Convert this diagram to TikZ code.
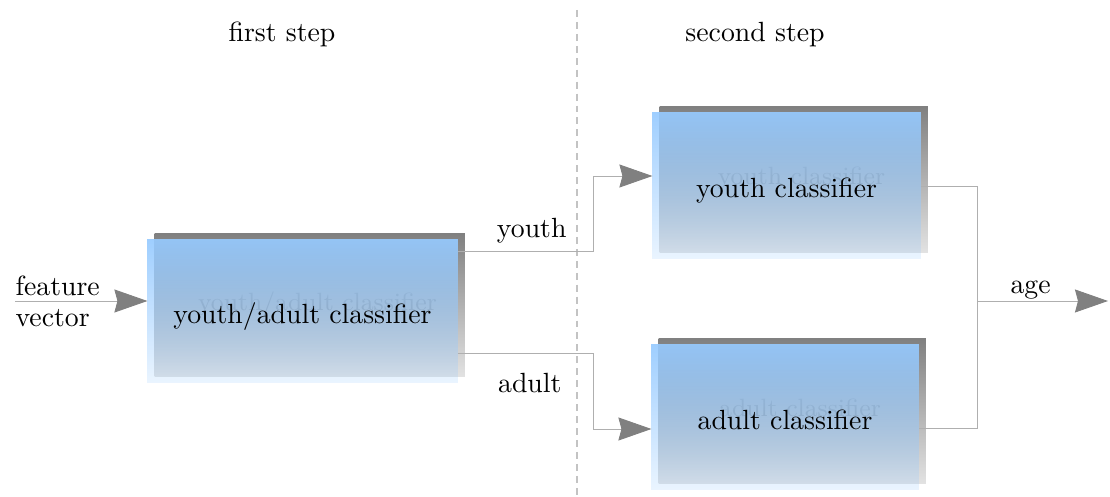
\documentclass[tikz,border=0pt]{standalone}
\usetikzlibrary{arrows.meta,fadings}
\definecolor{boxblue}{RGB}{150,202,255}
\definecolor{shadtop}{RGB}{128,128,128}
\definecolor{shadbot}{RGB}{226,226,226}
\definecolor{linegray}{RGB}{175,175,175}
\definecolor{arrgray}{RGB}{128,128,128}
\definecolor{dashgray}{RGB}{195,195,195}
\definecolor{ghostgray}{RGB}{140,140,140}
\tikzfading[name=boxfade, top color=transparent!8, bottom color=transparent!80]
\tikzset{
  boxnode/.style={rectangle, inner sep=0pt, draw=none},
  conn/.style={draw=linegray, line width=0.32pt},
  arr/.style={-{Stealth[length=11.9pt, width=8.3pt, inset=1.1pt, color=arrgray]}},
  dashline/.style={draw=dashgray, line width=0.4pt, dash pattern=on 2.5pt off 1.8pt},
  lbl/.style={inner sep=0pt, font=\normalsize},
  ghost/.style={inner sep=0pt, text=ghostgray, font=\fontsize{9}{11}\selectfont},
}
\begin{document}
\begin{tikzpicture}[x=0.36pt,y=-0.36pt]
\useasboundingbox (0,0) rectangle (1110,497);

% dashed separator
\coordinate (dtop) at (577,10);
\coordinate (dbot) at (577,495);
\draw[dashline] (dtop) -- (dbot);

% step titles
\node[lbl, anchor=base] (s1) at (282,42) {first step};
\node[lbl, anchor=base] (s2) at (755,42) {second step};

% box placeholders
\node[boxnode, minimum width=111.24pt, minimum height=51.12pt] (b1) at (302.5,311) {};
\node[boxnode, minimum width=96.12pt, minimum height=52.2pt] (b2) at (786.5,185.5) {};
\node[boxnode, minimum width=95.76pt, minimum height=51.84pt] (b3) at (785,417) {};

% shadows, ghost texts, fronts
\foreach \b/\t in {b1/{youth/adult classifier}, b2/{youth classifier}, b3/{adult classifier}}{
  \shade[top color=shadtop, bottom color=shadbot]
    ([xshift=2.6pt, yshift=2.2pt]\b.south west) rectangle ([xshift=2.6pt, yshift=2.2pt]\b.north east);
  \node[ghost, anchor=base] at ([xshift=5.4pt, yshift=0.2pt]\b.center) {\t};
  \fill[boxblue, path fading=boxfade] (\b.south west) rectangle (\b.north east);
  \node[lbl, anchor=base] at ([yshift=-4.5pt]\b.center) {\t};
}

% input
\coordinate (fv) at (15,301);
\draw[conn, arr] (fv) -- (fv -| b1.west);
\node[lbl, anchor=base west] (lf) at (15,296) {feature};
\node[lbl, anchor=base west] (lv) at (15,327) {vector};

% youth branch
\coordinate (yb) at (593,251);
\coordinate (ya) at (593,176);
\draw[conn, arr] (yb -| b1.east) -- (yb) -- (ya) -- (ya -| b2.west);
\node[lbl, anchor=base east] (ly) at (567,238) {youth};

% adult branch
\coordinate (ab) at (593,353);
\coordinate (aa) at (593,429);
\draw[conn, arr] (ab -| b1.east) -- (ab) -- (aa) -- (aa -| b3.west);
\node[lbl, anchor=base east] (la) at (562,393) {adult};

% merge to age
\coordinate (r2) at (977,186);
\coordinate (r3) at (977,428);
\coordinate (ro) at (977,301);
\coordinate (out) at (1108,301);
\draw[conn] (r2 -| b2.east) -- (r2) -- (r3) -- (r3 -| b3.east);
\draw[conn, arr] (ro) -- (out);
\node[lbl, anchor=base west] (lage) at (1010,294) {age};
\end{tikzpicture}
\end{document}
